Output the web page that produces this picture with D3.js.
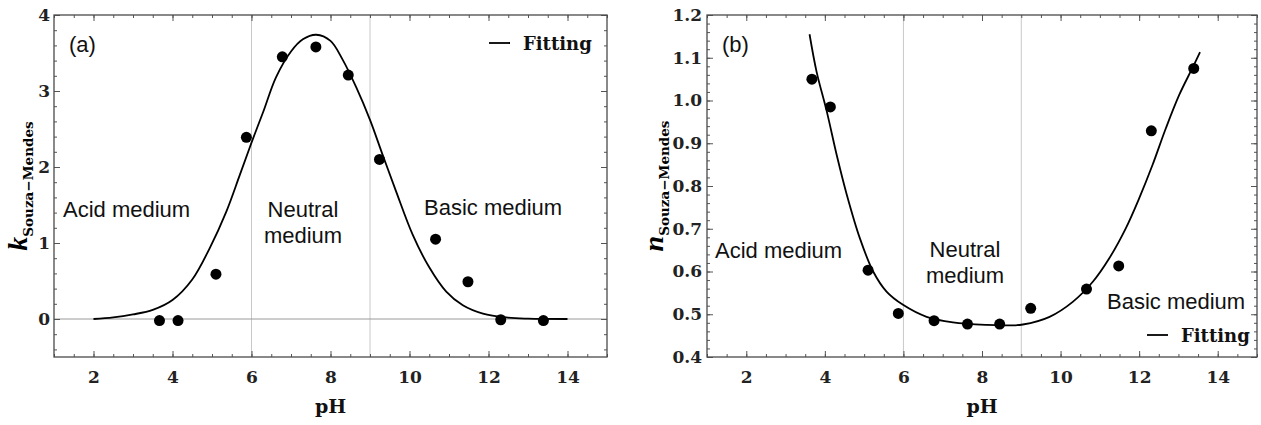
<!DOCTYPE html>
<meta charset="utf-8">
<head>
<style>
  body { margin: 0; background: #fff; }
  .region { font: 22px "Liberation Sans", Arial, sans-serif; fill: #111; }
  .tick text { font: bold 17px "DejaVu Serif", serif; fill: #222; }
  .axis path.domain { display: none; }
  .tick line { stroke: #555; stroke-width: 1; }
  .legend { font: bold 18px "DejaVu Serif", serif; fill: #111; }
  .xlabel { font: bold 19px "DejaVu Serif", serif; fill: #111; }
</style>
</head>
<body>
<script src="https://cdn.jsdelivr.net/npm/d3@7"></script>
<script>

// measured points (same pH for both panels)
var pH     = [3.67, 4.14, 5.10, 5.87, 6.78, 7.63, 8.45, 9.24, 10.66, 11.48, 12.31, 13.39];
var kSouza = [-0.02, -0.02, 0.59, 2.39, 3.45, 3.58, 3.21, 2.10, 1.05, 0.49, -0.01, -0.02];
var nSouza = [1.050, 0.985, 0.603, 0.502, 0.485, 0.477, 0.477, 0.514, 0.559, 0.613, 0.929, 1.075];

// fitting curves
var kFitPH = [2.0, 2.5, 3.0, 3.5, 4.0, 4.5, 4.94, 5.36, 5.70, 6.0, 6.3, 6.62, 7.0, 7.3, 7.64,
              8.0, 8.3, 8.65, 9.0, 9.32, 9.66, 10.08, 10.5, 10.93, 11.35, 11.86, 12.45, 13.0, 14.0];
var kFit   = [0.0, 0.02, 0.06, 0.12, 0.25, 0.52, 0.93, 1.41, 1.89, 2.32, 2.73, 3.18, 3.52, 3.68, 3.74,
              3.66, 3.42, 3.05, 2.62, 2.16, 1.68, 1.11, 0.68, 0.36, 0.18, 0.07, 0.02, 0.005, 0.0];
var nFitPH = [3.61, 3.79, 4.05, 4.30, 4.56, 4.89, 5.23, 5.57, 5.99, 6.59, 7.26, 8.11, 8.70,
              9.04, 9.72, 10.31, 10.82, 11.24, 11.66, 12.0, 12.34, 12.68, 13.02, 13.35, 13.55];
var nFit   = [1.155, 1.067, 0.974, 0.873, 0.779, 0.678, 0.600, 0.553, 0.522, 0.494, 0.481, 0.475, 0.474,
              0.476, 0.494, 0.529, 0.576, 0.631, 0.701, 0.771, 0.849, 0.935, 1.013, 1.075, 1.113];

var xTicks = [2, 4, 6, 8, 10, 12, 14];
var kTicks = [0, 1, 2, 3, 4];
var nTicks = [0.4, 0.5, 0.6, 0.7, 0.8, 0.9, 1.0, 1.1, 1.2];
var regionBounds = [6, 9];

var svg = d3.select("body").append("svg")
    .attr("width", 1261)
    .attr("height", 425)
    .style("background", "#fff");

function panel(o) {
  var w = o.width, h = o.height;
  var g = svg.append("g").attr("transform", "translate(" + o.left + "," + o.top + ")");

  var x = d3.scaleLinear().domain([1, 15]).range([0, w]);
  var y = d3.scaleLinear().domain(o.yDomain).range([h, 0]);

  var xMinor = d3.range(1, 15.001, 0.5);

  // region separators
  g.selectAll(".vline").data(regionBounds).enter().append("line")
      .attr("x1", d => x(d)).attr("x2", d => x(d))
      .attr("y1", 0).attr("y2", h)
      .attr("stroke", "#c8c8c8").attr("stroke-width", 1);

  if (o.zeroLine) {
    g.append("line")
        .attr("x1", 0).attr("x2", w)
        .attr("y1", y(0)).attr("y2", y(0))
        .attr("stroke", "#9a9a9a").attr("stroke-width", 1);
  }

  // ticks on all four sides, pointing in
  g.append("g").attr("class", "axis").attr("transform", "translate(0," + h + ")")
      .call(d3.axisBottom(x).tickValues(xMinor).tickSize(-3).tickFormat(""));
  g.append("g").attr("class", "axis").attr("transform", "translate(0," + h + ")")
      .call(d3.axisBottom(x).tickValues(xTicks).tickSize(-6).tickPadding(14).tickFormat(d3.format("d")));
  g.append("g").attr("class", "axis")
      .call(d3.axisTop(x).tickValues(xMinor).tickSize(-3).tickFormat(""));
  g.append("g").attr("class", "axis")
      .call(d3.axisTop(x).tickValues(xTicks).tickSize(-6).tickFormat(""));

  g.append("g").attr("class", "axis")
      .call(d3.axisLeft(y).tickValues(o.yMinor).tickSize(-3).tickFormat(""));
  g.append("g").attr("class", "axis")
      .call(d3.axisLeft(y).tickValues(o.yTicks).tickSize(-6).tickPadding(o.pad).tickFormat(o.fmt));
  g.append("g").attr("class", "axis").attr("transform", "translate(" + w + ",0)")
      .call(d3.axisRight(y).tickValues(o.yMinor).tickSize(-3).tickFormat(""));
  g.append("g").attr("class", "axis").attr("transform", "translate(" + w + ",0)")
      .call(d3.axisRight(y).tickValues(o.yTicks).tickSize(-6).tickFormat(""));

  g.append("rect")
      .attr("width", w).attr("height", h)
      .attr("fill", "none").attr("stroke", "#4a4a4a").attr("stroke-width", 1.3);

  // fitting curve
  var line = d3.line()
      .x(d => x(d[0])).y(d => y(d[1]))
      .curve(d3.curveCatmullRom);
  g.append("path")
      .datum(d3.zip(o.fitX, o.fitY))
      .attr("d", line)
      .attr("fill", "none").attr("stroke", "#000").attr("stroke-width", 1.8);

  // points
  g.selectAll(".dot").data(d3.zip(pH, o.values)).enter().append("circle")
      .attr("cx", d => x(d[0])).attr("cy", d => y(d[1]))
      .attr("r", 5.5).attr("fill", "#000");

  // annotations
  g.append("text").attr("class", "region").attr("x", 15).attr("y", 37).text(o.letter);
  g.append("text").attr("class", "region").attr("x", o.acid[0]).attr("y", o.acid[1]).text("Acid medium");
  g.append("text").attr("class", "region").attr("text-anchor", "middle")
      .attr("x", o.neutral[0]).attr("y", o.neutral[1]).text("Neutral");
  g.append("text").attr("class", "region").attr("text-anchor", "middle")
      .attr("x", o.neutral[0]).attr("y", o.neutral[1] + 26).text("medium");
  g.append("text").attr("class", "region").attr("x", o.basic[0]).attr("y", o.basic[1]).text("Basic medium");

  // legend
  g.append("line")
      .attr("x1", o.legend[0]).attr("x2", o.legend[0] + 21)
      .attr("y1", o.legend[1] - 7).attr("y2", o.legend[1] - 7)
      .attr("stroke", "#000").attr("stroke-width", 1.8);
  g.append("text").attr("class", "legend")
      .attr("x", o.legend[0] + 34).attr("y", o.legend[1]).text("Fitting");

  // x label
  g.append("text").attr("class", "xlabel").attr("text-anchor", "middle")
      .attr("x", w / 2).attr("y", 398).text("pH");

  // y label
  var yl = g.append("text")
      .attr("transform", "translate(" + o.ylabelX + "," + (h / 2) + ") rotate(-90)")
      .attr("text-anchor", "middle");
  yl.append("tspan")
      .style("font", "italic bold 28px 'Liberation Serif', serif")
      .text(o.symbol);
  yl.append("tspan")
      .attr("dy", 6)
      .style("font", "bold 13.5px 'DejaVu Serif', serif")
      .text("Souza\u2212Mendes");
}

panel({
  left: 54, top: 15, width: 553, height: 342,
  yDomain: [-0.5, 4], yTicks: kTicks, yMinor: d3.range(-0.4, 4.001, 0.2),
  fmt: d3.format("d"), pad: 4, zeroLine: true,
  fitX: kFitPH, fitY: kFit, values: kSouza,
  letter: "(a)", acid: [9, 202], neutral: [249, 202], basic: [370, 200],
  legend: [435, 35], symbol: "k", ylabelX: -27
});

panel({
  left: 707, top: 15, width: 550, height: 342,
  yDomain: [0.4, 1.2], yTicks: nTicks, yMinor: d3.range(0.4, 1.2001, 0.02),
  fmt: d3.format(".1f"), pad: 5, zeroLine: false,
  fitX: nFitPH, fitY: nFit, values: nSouza,
  letter: "(b)", acid: [8, 243], neutral: [258, 242], basic: [400, 294],
  legend: [440, 327], symbol: "n", ylabelX: -44
});

</script>
</body>
